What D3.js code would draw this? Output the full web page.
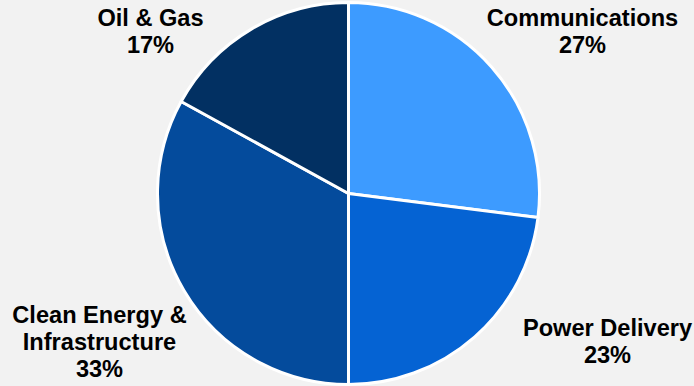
<!DOCTYPE html>
<html>
<head>
<meta charset="utf-8">
<script src="https://cdn.jsdelivr.net/npm/d3@7/dist/d3.min.js"></script>
<style>
  html, body { margin: 0; padding: 0; background: #f2f2f2; }
  svg { display: block; }
  text { font-family: "Liberation Sans", Arial, sans-serif; font-weight: bold; fill: #000; }
</style>
</head>
<body>
<svg id="chart" width="694" height="386"></svg>
<script>
// Segment mix, in percent
const categories = ["Communications", "Power Delivery", "Clean Energy & Infrastructure", "Oil & Gas"];
const shares = [27, 23, 33, 17];
const colors = ["#3d9bff", "#0563d3", "#044b9c", "#023062"];
// Label lines as shown next to each slice
const labelLines = [
  ["Communications", "27%"],
  ["Power Delivery", "23%"],
  ["Clean Energy &", "Infrastructure", "33%"],
  ["Oil & Gas", "17%"]
];
// Label anchors (center x, first baseline y)
const labelPos = [[582.5, 26], [607.5, 336], [99.5, 323], [150.5, 26]];

const svg = d3.select("#chart");
const cx = 348.5, cy = 193.5, r = 191;

const pie = d3.pie().sort(null).value(d => d)(shares);
const arc = d3.arc().innerRadius(0).outerRadius(r);

const g = svg.append("g").attr("transform", `translate(${cx},${cy})`);
g.selectAll("path")
  .data(pie)
  .join("path")
  .attr("d", arc)
  .attr("fill", (d, i) => colors[i])
  .attr("stroke", "#ffffff")
  .attr("stroke-width", 3)
  .attr("stroke-linejoin", "round");

const labels = svg.append("g")
  .selectAll("text")
  .data(categories)
  .join("text")
  .attr("text-anchor", "middle")
  .attr("font-size", 23.6)
  .attr("x", (d, i) => labelPos[i][0])
  .attr("y", (d, i) => labelPos[i][1]);

labels.selectAll("tspan")
  .data((d, i) => labelLines[i].map(t => ({ t, x: labelPos[i][0] })))
  .join("tspan")
  .attr("x", d => d.x)
  .attr("dy", (d, j) => j === 0 ? 0 : 27)
  .text(d => d.t);
</script>
</body>
</html>
